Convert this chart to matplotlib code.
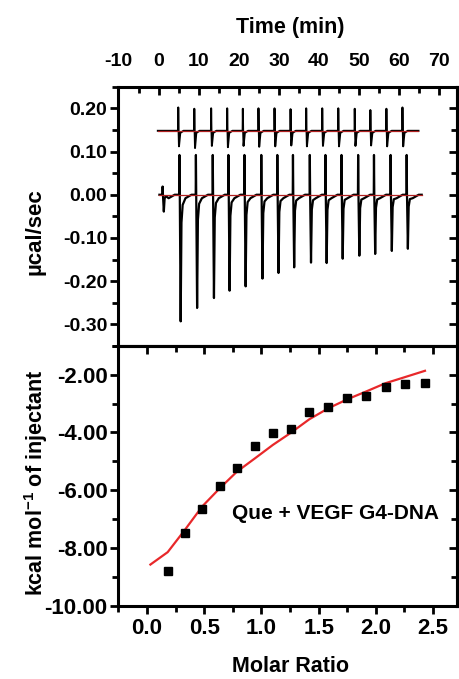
import numpy as np
import matplotlib.pyplot as plt
from matplotlib.ticker import MultipleLocator

plt.rcParams['font.family'] = ['Liberation Sans', 'DejaVu Sans']
plt.rcParams['font.weight'] = 'bold'
plt.rcParams['mathtext.default'] = 'regular'
plt.rcParams['axes.unicode_minus'] = False

# --- raw thermogram ---
# sample cell trace, baseline 0.00 (first entry = small 1st injection)
raw_time = [1.0, 5.2, 9.3, 13.5, 17.4, 21.4, 25.6, 29.6, 33.5, 37.7,
            41.6, 45.6, 49.75, 53.7, 57.85, 61.85]
raw_top = [0.019, 0.092, 0.092, 0.092, 0.092, 0.092, 0.092, 0.092, 0.092,
           0.092, 0.092, 0.092, 0.092, 0.092, 0.092, 0.092]
raw_min = [-0.039, -0.293, -0.262, -0.239, -0.222, -0.212, -0.194, -0.181,
           -0.168, -0.157, -0.158, -0.148, -0.141, -0.137, -0.130, -0.125]
raw_span = [0.2, 65.6]

# offset trace, baseline 0.15
ref_time = [4.9, 8.9, 13.1, 17.1, 21.0, 24.9, 28.9, 32.9, 36.8, 40.8,
            44.8, 48.9, 52.8, 56.8, 60.8]
ref_top = [0.202, 0.199, 0.200, 0.200, 0.199, 0.200, 0.200, 0.198, 0.200,
           0.200, 0.200, 0.199, 0.196, 0.199, 0.202]
ref_min = [0.112, 0.108, 0.113, 0.110, 0.113, 0.111, 0.112, 0.114, 0.112,
           0.113, 0.112, 0.113, 0.114, 0.112, 0.112]
ref_span = [-0.2, 64.8]
ref_base = 0.148

# --- integrated heats ---
molar_ratio = [0.18, 0.328, 0.483, 0.634, 0.785, 0.942, 1.10, 1.257, 1.419,
               1.585, 1.75, 1.914, 2.085, 2.254, 2.43]
heat = [-8.81, -7.49, -6.66, -5.86, -5.22, -4.48, -4.02, -3.89, -3.28,
        -3.10, -2.81, -2.73, -2.41, -2.31, -2.29]
fit_x = [0.029, 0.18, 0.328, 0.483, 0.634, 0.785, 0.942, 1.10, 1.257, 1.419,
         1.585, 1.75, 1.914, 2.085, 2.254, 2.43]
fit_y = [-8.58, -8.15, -7.39, -6.56, -5.94, -5.36, -4.90, -4.43, -4.01, -3.54,
         -3.16, -2.85, -2.58, -2.29, -2.08, -1.86]


def sample_trace(times, tops, mins, span):
    # spike up, sharp exothermic dip, then fast recovery to baseline
    t = [span[0]]
    y = [0.0]
    for ti, hi, lo in zip(times, tops, mins):
        t += [ti - 0.05, ti, ti + 0.08, ti + 0.3, ti + 0.5, ti + 0.8, ti + 1.5, ti + 3.0]
        y += [0.0, hi, 0.0, lo, lo * 0.22, lo * 0.08, -0.008, 0.0]
    t.append(span[1])
    y.append(0.0)
    return t, y


def offset_trace(times, tops, mins, span, base):
    t = [span[0]]
    y = [base]
    for ti, hi, lo in zip(times, tops, mins):
        t += [ti - 0.05, ti, ti + 0.08, ti + 0.18, ti + 0.5, ti + 1.3]
        y += [base, hi, base, lo, base - 0.005, base]
    t.append(span[1])
    y.append(base)
    return t, y


fig = plt.figure(figsize=(4.6, 6.79), dpi=100)
L, R = 118.5, 457.0
ax1 = fig.add_axes([L / 460, 1 - 346 / 679, (R - L) / 460, (346 - 86.7) / 679])
ax2 = fig.add_axes([L / 460, 1 - 605.5 / 679, (R - L) / 460, (605.5 - 346) / 679])

# top panel: raw heat flow
t, y = offset_trace(ref_time, ref_top, ref_min, ref_span, ref_base)
ax1.plot(t, y, color='black', lw=1.4)
ax1.plot(ref_span, [ref_base, ref_base], color='#b02020', lw=0.9)
t, y = sample_trace(raw_time, raw_top, raw_min, raw_span)
ax1.plot(t, y, color='black', lw=1.6)
ax1.plot(raw_span, [0, 0], color='#b02020', lw=0.9)

ax1.set_xlim(-10, 74.4)
ax1.set_ylim(-0.35, 0.25)
ax1.xaxis.set_major_locator(MultipleLocator(10))
ax1.xaxis.set_minor_locator(MultipleLocator(5))
ax1.yaxis.set_major_locator(MultipleLocator(0.1))
ax1.yaxis.set_minor_locator(MultipleLocator(0.05))
ax1.tick_params(axis='x', which='both', direction='in', top=True, bottom=False,
                labeltop=True, labelbottom=False, labelsize=14, pad=12)
ax1.tick_params(axis='y', which='both', direction='out', left=True, right=False,
                labelsize=14, pad=2)
ax1.yaxis.set_major_formatter(plt.FormatStrFormatter('%.2f'))
sec1 = ax1.secondary_yaxis('right')
sec1.yaxis.set_major_locator(MultipleLocator(0.1))
sec1.yaxis.set_minor_locator(MultipleLocator(0.05))
sec1.tick_params(axis='y', which='both', direction='in', labelright=False)

# bottom panel: integrated heats + fit
ax2.plot(fit_x, fit_y, color='#e8282a', lw=1.6, zorder=2)
ax2.plot(molar_ratio, heat, 's', color='black', ms=5.5, zorder=3)
ax2.text(0.745, -6.8, 'Que + VEGF G4-DNA', fontsize=15, va='center', ha='left')

ax2.set_xlim(-0.25, 2.71)
ax2.set_ylim(-10, -1)
ax2.xaxis.set_major_locator(MultipleLocator(0.5))
ax2.xaxis.set_minor_locator(MultipleLocator(0.25))
ax2.yaxis.set_major_locator(MultipleLocator(2))
ax2.yaxis.set_minor_locator(MultipleLocator(1))
ax2.xaxis.set_major_formatter(plt.FormatStrFormatter('%.1f'))
ax2.yaxis.set_major_formatter(plt.FormatStrFormatter('%.2f'))
ax2.tick_params(axis='both', which='both', direction='out', labelsize=16)
ax2.tick_params(axis='x', pad=3)
ax2.tick_params(axis='y', pad=2)
sec2x = ax2.secondary_xaxis('top')
sec2x.xaxis.set_major_locator(MultipleLocator(0.5))
sec2x.xaxis.set_minor_locator(MultipleLocator(0.25))
sec2x.tick_params(axis='x', which='both', direction='in', labeltop=False)
sec2y = ax2.secondary_yaxis('right')
sec2y.yaxis.set_major_locator(MultipleLocator(2))
sec2y.yaxis.set_minor_locator(MultipleLocator(1))
sec2y.tick_params(axis='y', which='both', direction='in', labelright=False)

for a in [ax1, ax2, sec1, sec2x, sec2y]:
    for s in a.spines.values():
        s.set_linewidth(2.2)
    a.tick_params(which='major', length=6, width=2)
    a.tick_params(which='minor', length=4, width=2)

fig.text(290 / 460, 1 - 27 / 679, 'Time (min)', fontsize=15.5, ha='center', va='center')
fig.text(291 / 460, 1 - 667 / 679, 'Molar Ratio', fontsize=15.5, ha='center', va='center')
fig.text(35 / 460, 1 - 232 / 679, 'µcal/sec', fontsize=16, rotation=90,
         ha='center', va='center')
fig.text(36 / 460, 1 - 483 / 679, 'kcal mol$^{-1}$ of injectant', fontsize=15.5,
         rotation=90, ha='center', va='center')

fig.savefig('out.png', dpi=100)
